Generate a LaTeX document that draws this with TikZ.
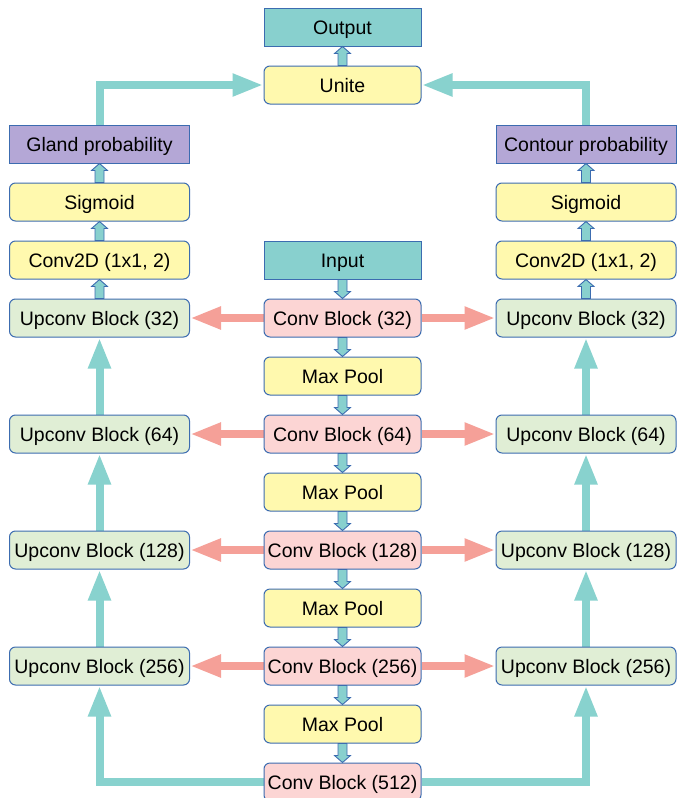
\documentclass[tikz,border=0pt]{standalone}
\usepackage{fontspec}
\setmainfont{Liberation Sans}
\usetikzlibrary{arrows.meta,calc,backgrounds}
\definecolor{tealfill}{RGB}{136,208,206}
\definecolor{bordblue}{RGB}{60,108,176}
\definecolor{yellowfill}{RGB}{255,249,174}
\definecolor{pinkfill}{RGB}{252,213,212}
\definecolor{greenfill}{RGB}{224,238,213}
\definecolor{purplefill}{RGB}{180,167,214}
\definecolor{bigteal}{RGB}{136,210,206}
\definecolor{salmon}{RGB}{245,160,152}
\tikzset{
  box/.style={draw=bordblue, line width=1pt, minimum height=38pt, inner sep=0pt,
    font=\fontsize{19.5pt}{22pt}\selectfont, text height=16pt, text depth=2pt},
  cbox/.style={box, minimum width=157pt},
  sbox/.style={box, minimum width=180pt},
  tealbox/.style={fill=tealfill},
  yelbox/.style={fill=yellowfill, rounded corners=6pt},
  pinkbox/.style={fill=pinkfill, rounded corners=6pt},
  greenbox/.style={fill=greenfill, rounded corners=6pt},
  purplebox/.style={fill=purplefill},
  bigarrow/.style={line width=8pt, -{Triangle[length=31pt,width=21pt]}},
  tealarrow/.style={bigarrow, draw=bigteal},
  pinkarrow/.style={bigarrow, draw=salmon},
  blkarrow/.style={draw=bordblue, fill=tealfill, line width=0.9pt, line join=miter},
}
\newcommand\blk[2]{%
  \path[blkarrow] let \p1=#1, \p2=#2, \n1={sign(\y2-\y1)} in
    (\x1-4.5pt,\y1) -- (\x1-4.5pt,\y2-\n1*7pt) -- (\x1-8pt,\y2-\n1*7pt) -- (\x1,\y2)
    -- (\x1+8pt,\y2-\n1*7pt) -- (\x1+4.5pt,\y2-\n1*7pt) -- (\x1+4.5pt,\y1) -- cycle;}
\begin{document}
\begin{tikzpicture}[x=1pt,y=-1pt]
\useasboundingbox (0,0) rectangle (678,798);
% center column
\node[cbox,tealbox] (output) at (342.5,27) {Output};
\node[cbox,yelbox] (unite) at (342.5,85) {Unite};
\node[cbox,tealbox] (input) at (342.5,260) {Input};
\node[cbox,pinkbox] (c32) at (342.5,318) {Conv Block (32)};
\node[cbox,yelbox] (mp1) at (342.5,376) {Max Pool};
\node[cbox,pinkbox] (c64) at (342.5,434) {Conv Block (64)};
\node[cbox,yelbox] (mp2) at (342.5,492) {Max Pool};
\node[cbox,pinkbox] (c128) at (342.5,550) {Conv Block (128)};
\node[cbox,yelbox] (mp3) at (342.5,608) {Max Pool};
\node[cbox,pinkbox] (c256) at (342.5,666) {Conv Block (256)};
\node[cbox,yelbox] (mp4) at (342.5,724) {Max Pool};
\node[cbox,pinkbox] (c512) at (342.5,782) {Conv Block (512)};
% left column
\node[sbox,purplebox] (gland) at (99.5,144) {Gland probability};
\node[sbox,yelbox] (sigl) at (99.5,202) {Sigmoid};
\node[sbox,yelbox] (convl) at (99.5,260) {Conv2D (1x1, 2)};
\node[sbox,greenbox] (ul32) at (99.5,318) {Upconv Block (32)};
\node[sbox,greenbox] (ul64) at (99.5,434) {Upconv Block (64)};
\node[sbox,greenbox] (ul128) at (99.5,550) {Upconv Block (128)};
\node[sbox,greenbox] (ul256) at (99.5,666) {Upconv Block (256)};
% right column
\node[sbox,purplebox] (contour) at (586,144) {Contour probability};
\node[sbox,yelbox] (sigr) at (586,202) {Sigmoid};
\node[sbox,yelbox] (convr) at (586,260) {Conv2D (1x1, 2)};
\node[sbox,greenbox] (ur32) at (586,318) {Upconv Block (32)};
\node[sbox,greenbox] (ur64) at (586,434) {Upconv Block (64)};
\node[sbox,greenbox] (ur128) at (586,550) {Upconv Block (128)};
\node[sbox,greenbox] (ur256) at (586,666) {Upconv Block (256)};
\begin{pgfonlayer}{background}
\fill[white] (0,0) rectangle (678,798);
% big teal arrows
\draw[tealarrow] (gland.north) |- (unite.west);
\draw[tealarrow] (contour.north) |- (unite.east);
\draw[tealarrow] (ul64.north) -- (ul32.south);
\draw[tealarrow] (ul128.north) -- (ul64.south);
\draw[tealarrow] (ul256.north) -- (ul128.south);
\draw[tealarrow] (ur64.north) -- (ur32.south);
\draw[tealarrow] (ur128.north) -- (ur64.south);
\draw[tealarrow] (ur256.north) -- (ur128.south);
\draw[tealarrow] (c512.west) -| (ul256.south);
\draw[tealarrow] (c512.east) -| (ur256.south);
% pink skip arrows
\draw[pinkarrow] (c32.west) -- (ul32.east);
\draw[pinkarrow] (c32.east) -- (ur32.west);
\draw[pinkarrow] (c64.west) -- (ul64.east);
\draw[pinkarrow] (c64.east) -- (ur64.west);
\draw[pinkarrow] (c128.west) -- (ul128.east);
\draw[pinkarrow] (c128.east) -- (ur128.west);
\draw[pinkarrow] (c256.west) -- (ul256.east);
\draw[pinkarrow] (c256.east) -- (ur256.west);
\end{pgfonlayer}
% small block arrows
\blk{(unite.north)}{(output.south)}
\blk{(input.south)}{(c32.north)}
\blk{(c32.south)}{(mp1.north)}
\blk{(mp1.south)}{(c64.north)}
\blk{(c64.south)}{(mp2.north)}
\blk{(mp2.south)}{(c128.north)}
\blk{(c128.south)}{(mp3.north)}
\blk{(mp3.south)}{(c256.north)}
\blk{(c256.south)}{(mp4.north)}
\blk{(mp4.south)}{(c512.north)}
\blk{(ul32.north)}{(convl.south)}
\blk{(convl.north)}{(sigl.south)}
\blk{(sigl.north)}{(gland.south)}
\blk{(ur32.north)}{(convr.south)}
\blk{(convr.north)}{(sigr.south)}
\blk{(sigr.north)}{(contour.south)}
\end{tikzpicture}
\end{document}
